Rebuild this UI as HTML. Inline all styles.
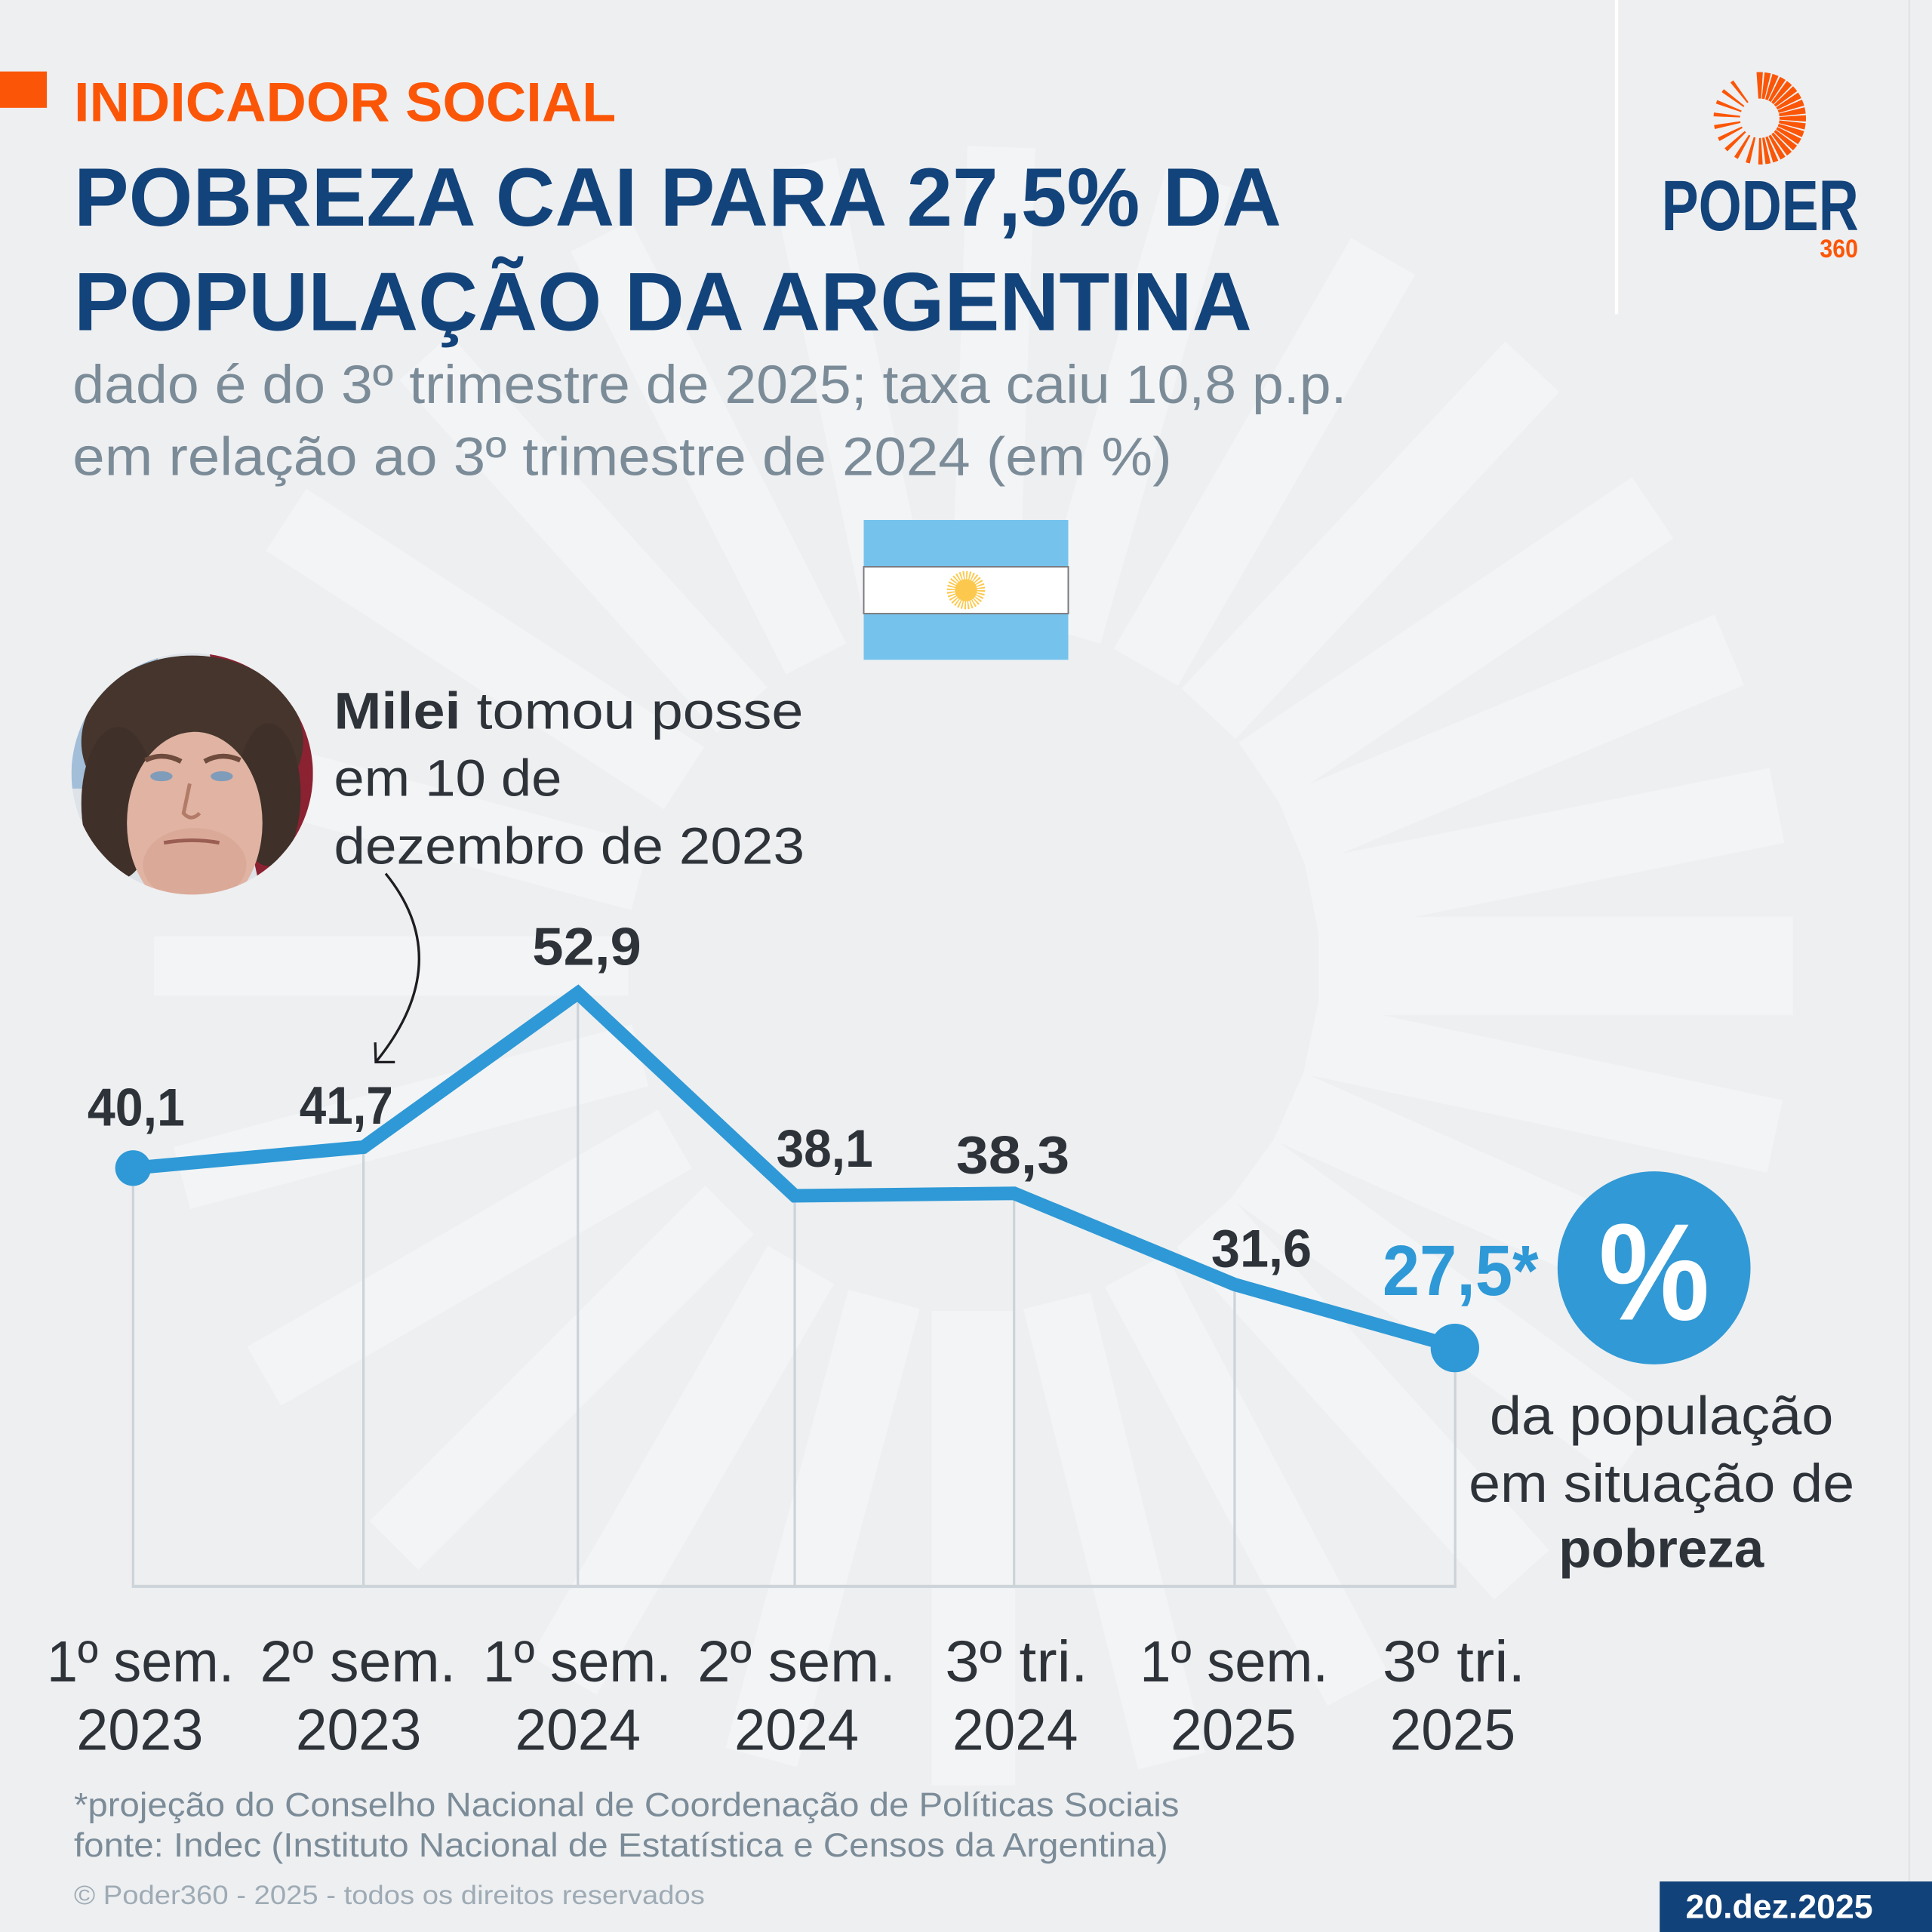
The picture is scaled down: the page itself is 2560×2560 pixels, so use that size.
<!DOCTYPE html>
<html><head><meta charset="utf-8">
<style>
html,body{margin:0;padding:0;background:#eeeff1;}
svg{display:block;}
text{font-family:"Liberation Sans","DejaVu Sans",sans-serif;}
</style></head>
<body>
<svg xmlns="http://www.w3.org/2000/svg" width="2560" height="2560" viewBox="0 0 1568 1568">
<defs>
<clipPath id="pc"><circle cx="156" cy="628" r="98"/></clipPath>
</defs>
<rect x="0" y="0" width="1568" height="1568" fill="#eeeff1"/>
<!-- background sun rays -->
<g fill="#f3f4f6">
<rect x="1070" y="744" width="385" height="80" transform="rotate(0 790 784)"/>
<rect x="1070" y="754" width="385" height="60" transform="rotate(12 790 784)"/>
<rect x="1070" y="754" width="385" height="60" transform="rotate(24 790 784)"/>
<rect x="1070" y="754" width="385" height="60" transform="rotate(36 790 784)"/>
<rect x="1070" y="754" width="385" height="60" transform="rotate(48 790 784)"/>
<rect x="1070" y="756" width="385" height="56" transform="rotate(62 790 784)"/>
<rect x="1070" y="756" width="385" height="56" transform="rotate(76 790 784)"/>
<rect x="1070" y="750" width="385" height="68" transform="rotate(90 790 784)"/>
<rect x="1070" y="754" width="385" height="60" transform="rotate(105 790 784)"/>
<rect x="1070" y="753" width="385" height="62" transform="rotate(120 790 784)"/>
<rect x="1070" y="756" width="385" height="56" transform="rotate(135 790 784)"/>
<rect x="1070" y="756" width="385" height="55" transform="rotate(150 790 784)"/>
<rect x="1070" y="758" width="385" height="52" transform="rotate(165 790 784)"/>
<rect x="1070" y="760" width="385" height="48" transform="rotate(180 790 784)"/>
<rect x="1070" y="756" width="385" height="55" transform="rotate(195 790 784)"/>
<rect x="1070" y="754" width="385" height="60" transform="rotate(213 790 784)"/>
<rect x="1070" y="756" width="385" height="55" transform="rotate(228 790 784)"/>
<rect x="1070" y="756" width="385" height="55" transform="rotate(243 790 784)"/>
<rect x="1070" y="756" width="385" height="55" transform="rotate(258 790 784)"/>
<rect x="1070" y="756" width="385" height="55" transform="rotate(272 790 784)"/>
<rect x="1070" y="756" width="385" height="55" transform="rotate(286 790 784)"/>
<rect x="1070" y="754" width="385" height="60" transform="rotate(300 790 784)"/>
<rect x="1070" y="754" width="385" height="60" transform="rotate(313 790 784)"/>
<rect x="1070" y="754" width="385" height="60" transform="rotate(326 790 784)"/>
<rect x="1070" y="753" width="385" height="62" transform="rotate(337.3 790 784)"/>
<rect x="1070" y="753" width="385" height="62" transform="rotate(348.7 790 784)"/>
</g>
<!-- right faint line and white divider -->
<line x1="1549.5" y1="0" x2="1549.5" y2="1527" stroke="#e2e5e8" stroke-width="1.5"/>
<line x1="1312" y1="0" x2="1312" y2="255" stroke="#ffffff" stroke-width="2.6"/>

<!-- header -->
<rect x="0" y="58" width="38" height="29.5" fill="#fb5607"/>
<text x="60" y="98.4" font-size="45" font-weight="bold" fill="#fb5607" textLength="440" lengthAdjust="spacingAndGlyphs">INDICADOR SOCIAL</text>
<text x="60" y="183" font-size="67" font-weight="bold" fill="#12437a" textLength="980" lengthAdjust="spacingAndGlyphs">POBREZA CAI PARA 27,5% DA</text>
<text x="60" y="268" font-size="67" font-weight="bold" fill="#12437a" textLength="956" lengthAdjust="spacingAndGlyphs">POPULAÇÃO DA ARGENTINA</text>
<text x="59" y="327" font-size="44" fill="#7b8c98" textLength="1034" lengthAdjust="spacingAndGlyphs">dado é do 3º trimestre de 2025; taxa caiu 10,8 p.p.</text>
<text x="59" y="385.5" font-size="44" fill="#7b8c98" textLength="892" lengthAdjust="spacingAndGlyphs">em relação ao 3º trimestre de 2024 (em %)</text>

<!-- logo -->
<circle cx="1428.2" cy="96" r="26.75" fill="none" stroke="#fb5607" stroke-width="21.5" transform="rotate(-94 1428.2 96)"
 stroke-dasharray="3.7 0.97 3.7 0.97 3.7 0.97 3.7 0.97 3.7 0.97 3.7 0.97 3.7 0.97 3.7 0.97 3.7 0.97 3.7 0.97 3.7 0.97 3.7 0.97 3.7 0.97 3.6 1.07 3.5 1.17 3.3 1.37 3.2 1.47 3.0 1.67 2.6 4.87 2.5 4.97 2.4 5.07 2.4 5.07 2.3 5.17 2.3 5.17 2.2 5.27 2.2 5.27 2.1 5.37 2.1 14.7"/>
<text x="1348.5" y="186.8" font-size="58" font-weight="bold" fill="#12437a" textLength="160" lengthAdjust="spacingAndGlyphs">PODER</text>
<text x="1477" y="209" font-size="21" font-weight="bold" fill="#fb5607" textLength="31" lengthAdjust="spacingAndGlyphs">360</text>

<!-- flag -->
<rect x="701" y="422" width="166" height="113.5" fill="#75c3ed"/>
<rect x="701" y="460" width="166" height="38" fill="#ffffff" stroke="#7a7a7e" stroke-width="1.2"/>
<circle cx="784" cy="479" r="12" fill="none" stroke="#fcc94e" stroke-width="7" stroke-dasharray="1.1 1.256"/>
<circle cx="784" cy="479" r="9" fill="#fcc94e"/>

<!-- photo -->
<g clip-path="url(#pc)">
<rect x="58" y="530" width="196" height="196" fill="#dde3e8"/>
<rect x="58" y="530" width="70" height="110" fill="#a3bed8"/>
<path d="M170 530 L254 530 L254 726 L212 726 Z" fill="#8b2231"/>
<ellipse cx="156" cy="602" rx="90" ry="70" fill="#45352d"/>
<ellipse cx="96" cy="652" rx="30" ry="62" fill="#3f3029"/>
<ellipse cx="218" cy="645" rx="26" ry="58" fill="#3f3029"/>
<ellipse cx="158" cy="668" rx="55" ry="74" fill="#e0b3a2"/>
<ellipse cx="158" cy="702" rx="42" ry="30" fill="#dba998"/>
<path d="M118 617 Q132 610 147 618" stroke="#6e4b3c" stroke-width="4" fill="none"/>
<path d="M166 618 Q180 610 195 617" stroke="#6e4b3c" stroke-width="4" fill="none"/>
<ellipse cx="131" cy="630" rx="9" ry="4" fill="#7f9cba"/>
<ellipse cx="180" cy="630" rx="9" ry="4" fill="#7f9cba"/>
<path d="M154 636 L149 660 Q155 667 162 660" stroke="#b27b68" stroke-width="3" fill="none"/>
<path d="M133 684 Q156 680 178 684" stroke="#9a5e52" stroke-width="3" fill="none"/>
</g>

<!-- annotation -->
<text x="271" y="591.5" font-size="42" fill="#2e333a" textLength="381" lengthAdjust="spacingAndGlyphs"><tspan font-weight="bold">Milei</tspan> tomou posse</text>
<text x="271" y="646" font-size="42" fill="#2e333a" textLength="185" lengthAdjust="spacingAndGlyphs">em 10 de</text>
<text x="271" y="701" font-size="42" fill="#2e333a" textLength="382" lengthAdjust="spacingAndGlyphs">dezembro de 2023</text>
<path d="M313 709 Q371 780.5 305 862" stroke="#1e1e22" stroke-width="2" fill="none"/>
<path d="M304.5 846 L305 862 L320.5 862" stroke="#1e1e22" stroke-width="2" fill="none"/>

<!-- grid -->
<g stroke="#ccd4d9" stroke-width="2">
<line x1="108" y1="948" x2="108" y2="1287.5"/>
<line x1="295" y1="931" x2="295" y2="1287.5"/>
<line x1="469" y1="806" x2="469" y2="1287.5"/>
<line x1="645" y1="970.5" x2="645" y2="1287.5"/>
<line x1="823" y1="968.5" x2="823" y2="1287.5"/>
<line x1="1002" y1="1042.5" x2="1002" y2="1287.5"/>
<line x1="1181" y1="1093" x2="1181" y2="1287.5"/>
</g>
<line x1="107" y1="1287.5" x2="1182" y2="1287.5" stroke="#cdd5da" stroke-width="2.6"/>

<!-- series -->
<polyline points="108,948 295,931 469,806 645,970.5 823,968.5 1002,1042.5 1181,1093" fill="none" stroke="#2e99d6" stroke-width="11" stroke-linejoin="miter"/>
<circle cx="108" cy="948" r="14.5" fill="#2e99d6"/>
<circle cx="1180.8" cy="1094" r="19.7" fill="#2e99d6"/>

<!-- value labels -->
<g font-size="43" font-weight="bold" fill="#2e333a">
<text x="71" y="913.7" textLength="79" lengthAdjust="spacingAndGlyphs">40,1</text>
<text x="243" y="912" textLength="76" lengthAdjust="spacingAndGlyphs">41,7</text>
<text x="432" y="783" textLength="88.5" lengthAdjust="spacingAndGlyphs">52,9</text>
<text x="630" y="947" textLength="78.5" lengthAdjust="spacingAndGlyphs">38,1</text>
<text x="776" y="952" textLength="92" lengthAdjust="spacingAndGlyphs">38,3</text>
<text x="983" y="1028" textLength="81.6" lengthAdjust="spacingAndGlyphs">31,6</text>
</g>
<text x="1122" y="1051" font-size="58" font-weight="bold" fill="#2e99d6" textLength="126.6" lengthAdjust="spacingAndGlyphs">27,5*</text>

<!-- percent badge -->
<circle cx="1342.4" cy="1029" r="78.3" fill="#3199d5"/>
<text x="1297.5" y="1071" font-size="112" font-weight="bold" fill="#ffffff" textLength="90" lengthAdjust="spacingAndGlyphs">%</text>
<text x="1209" y="1164" font-size="44" fill="#2e333a" textLength="279" lengthAdjust="spacingAndGlyphs">da população</text>
<text x="1192" y="1219" font-size="44" fill="#2e333a" textLength="313" lengthAdjust="spacingAndGlyphs">em situação de</text>
<text x="1265" y="1272" font-size="44" font-weight="bold" fill="#2e333a" textLength="166.5" lengthAdjust="spacingAndGlyphs">pobreza</text>

<!-- x labels -->
<g font-size="47" fill="#2e333a">
<text x="38" y="1364.7" textLength="152" lengthAdjust="spacingAndGlyphs">1º sem.</text>
<text x="211" y="1364.7" textLength="159" lengthAdjust="spacingAndGlyphs">2º sem.</text>
<text x="392" y="1364.7" textLength="153" lengthAdjust="spacingAndGlyphs">1º sem.</text>
<text x="566" y="1364.7" textLength="161" lengthAdjust="spacingAndGlyphs">2º sem.</text>
<text x="767" y="1364.7" textLength="116" lengthAdjust="spacingAndGlyphs">3º tri.</text>
<text x="925" y="1364.7" textLength="153" lengthAdjust="spacingAndGlyphs">1º sem.</text>
<text x="1122" y="1364.7" textLength="116" lengthAdjust="spacingAndGlyphs">3º tri.</text>
<text x="62" y="1420" textLength="103" lengthAdjust="spacingAndGlyphs">2023</text>
<text x="240" y="1420" textLength="102" lengthAdjust="spacingAndGlyphs">2023</text>
<text x="418" y="1420" textLength="102" lengthAdjust="spacingAndGlyphs">2024</text>
<text x="596" y="1420" textLength="101" lengthAdjust="spacingAndGlyphs">2024</text>
<text x="773" y="1420" textLength="102" lengthAdjust="spacingAndGlyphs">2024</text>
<text x="950" y="1420" textLength="102" lengthAdjust="spacingAndGlyphs">2025</text>
<text x="1128" y="1420" textLength="102" lengthAdjust="spacingAndGlyphs">2025</text>
</g>

<!-- footnotes -->
<text x="60" y="1474" font-size="27" fill="#7b8c98" textLength="897" lengthAdjust="spacingAndGlyphs">*projeção do Conselho Nacional de Coordenação de Políticas Sociais</text>
<text x="60" y="1506.7" font-size="27" fill="#7b8c98" textLength="888" lengthAdjust="spacingAndGlyphs">fonte: Indec (Instituto Nacional de Estatística e Censos da Argentina)</text>
<text x="60" y="1545.5" font-size="21.5" fill="#9eabb5" textLength="512" lengthAdjust="spacingAndGlyphs">© Poder360 - 2025 - todos os direitos reservados</text>

<!-- date box -->
<rect x="1347" y="1527" width="221" height="41" fill="#12427a"/>
<text x="1368" y="1556.7" font-size="27" font-weight="bold" fill="#ffffff" textLength="152" lengthAdjust="spacingAndGlyphs">20.dez.2025</text>
</svg>
</body></html>
